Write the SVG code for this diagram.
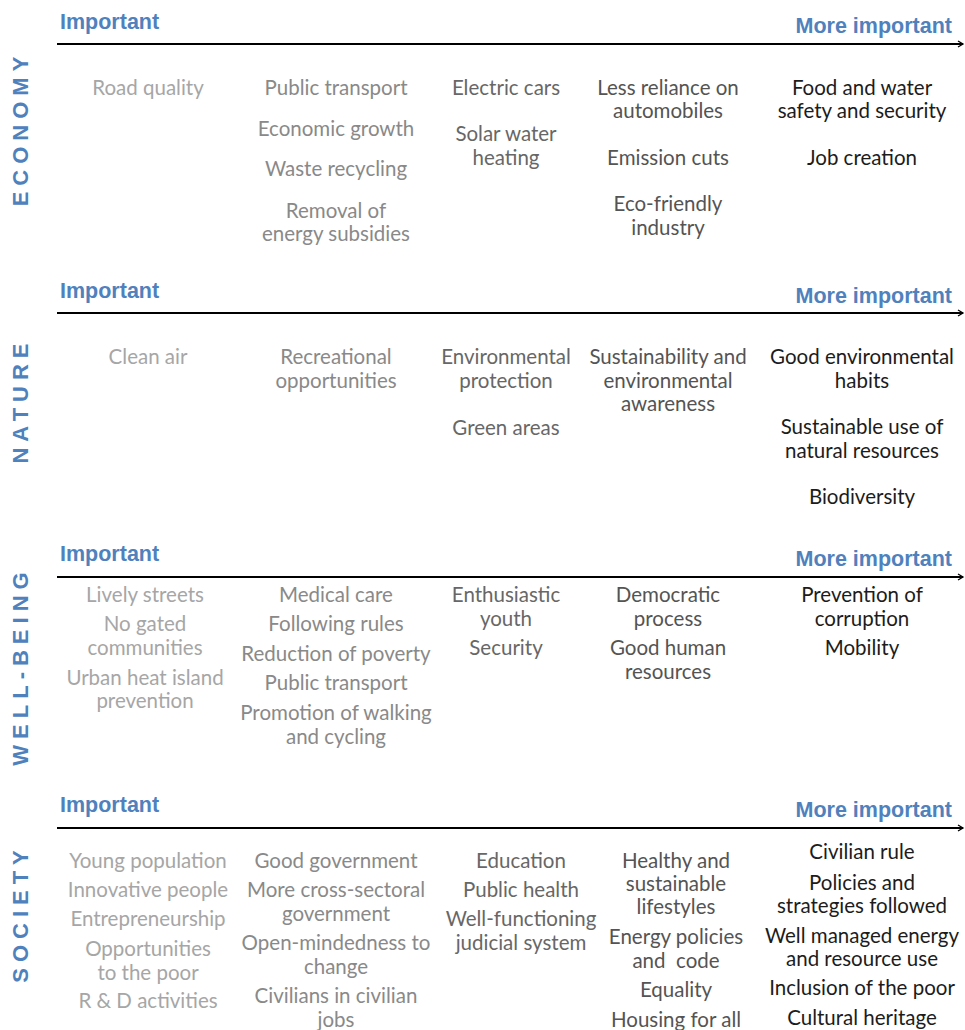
<svg xmlns="http://www.w3.org/2000/svg" width="965" height="1030" viewBox="0 0 965 1030">
  <style>
    text { font-family: Lato, "Liberation Sans", sans-serif; font-size: 20.5px; text-anchor: middle; }
    .hd { font-family: "Liberation Sans", Arial, sans-serif; font-weight: bold; font-size: 21.5px; fill: #4f81bd; }
    .hl { text-anchor: start; }
    .hr { text-anchor: end; }
    .side { font-family: "Liberation Sans", Arial, sans-serif; font-weight: bold; font-size: 22px; fill: #4f81bd; letter-spacing: 6px; }
    .c1 { fill: #a6a6a6; }
    .c2 { fill: #898989; }
    .c3 { fill: #676767; }
    .c4 { fill: #545454; }
    .c5 { fill: #1c1c1c; }
    .axis { stroke: #000; stroke-width: 2; fill: none; }
  </style>
  <defs>
    <marker id="arrow" markerWidth="10" markerHeight="10" refX="7" refY="4" orient="auto" markerUnits="userSpaceOnUse">
      <path d="M2,1 L7,4 L2,7" fill="none" stroke="#000" stroke-width="1.3"/>
    </marker>
  </defs>

  <!-- importance axes -->
  <g id="connectors">
    <line class="axis" x1="57" y1="44" x2="963" y2="44" marker-end="url(#arrow)"/>
    <line class="axis" x1="57" y1="313" x2="963" y2="313" marker-end="url(#arrow)"/>
    <line class="axis" x1="57" y1="577" x2="963" y2="577" marker-end="url(#arrow)"/>
    <line class="axis" x1="57" y1="828" x2="963" y2="828" marker-end="url(#arrow)"/>
  </g>

  <!-- ECONOMY -->
  <g id="economy">
    <text class="side" transform="translate(28,128.5) rotate(-90)">ECONOMY</text>
    <text class="hd hl" x="60" y="29">Important</text>
    <text class="hd hr" x="952" y="33">More important</text>
    <text class="c1" x="148" y="95">Road quality</text>
    <text class="c2" x="336" y="95">Public transport</text>
    <text class="c2" x="336" y="136">Economic growth</text>
    <text class="c2" x="336" y="176">Waste recycling</text>
    <text class="c2" x="336" y="218">Removal of</text>
    <text class="c2" x="336" y="241">energy subsidies</text>
    <text class="c3" x="506" y="95">Electric cars</text>
    <text class="c3" x="506" y="141">Solar water</text>
    <text class="c3" x="506" y="165">heating</text>
    <text class="c4" x="668" y="95">Less reliance on</text>
    <text class="c4" x="668" y="118">automobiles</text>
    <text class="c4" x="668" y="165">Emission cuts</text>
    <text class="c4" x="668" y="211">Eco-friendly</text>
    <text class="c4" x="668" y="235">industry</text>
    <text class="c5" x="862" y="95">Food and water</text>
    <text class="c5" x="862" y="118">safety and security</text>
    <text class="c5" x="862" y="165">Job creation</text>
  </g>

  <!-- NATURE -->
  <g id="nature">
    <text class="side" transform="translate(28,400.5) rotate(-90)">NATURE</text>
    <text class="hd hl" x="60" y="298">Important</text>
    <text class="hd hr" x="952" y="303">More important</text>
    <text class="c1" x="148" y="364">Clean air</text>
    <text class="c2" x="336" y="364">Recreational</text>
    <text class="c2" x="336" y="388">opportunities</text>
    <text class="c3" x="506" y="364">Environmental</text>
    <text class="c3" x="506" y="388">protection</text>
    <text class="c3" x="506" y="435">Green areas</text>
    <text class="c4" x="668" y="364">Sustainability and</text>
    <text class="c4" x="668" y="388">environmental</text>
    <text class="c4" x="668" y="411">awareness</text>
    <text class="c5" x="862" y="364">Good environmental</text>
    <text class="c5" x="862" y="388">habits</text>
    <text class="c5" x="862" y="434">Sustainable use of</text>
    <text class="c5" x="862" y="458">natural resources</text>
    <text class="c5" x="862" y="504">Biodiversity</text>
  </g>

  <!-- WELL-BEING -->
  <g id="well-being">
    <text class="side" transform="translate(28,666) rotate(-90)">WELL-BEING</text>
    <text class="hd hl" x="60" y="561">Important</text>
    <text class="hd hr" x="952" y="566">More important</text>
    <text class="c1" x="145" y="602">Lively streets</text>
    <text class="c1" x="145" y="631">No gated</text>
    <text class="c1" x="145" y="655">communities</text>
    <text class="c1" x="145" y="685">Urban heat island</text>
    <text class="c1" x="145" y="708">prevention</text>
    <text class="c2" x="336" y="602">Medical care</text>
    <text class="c2" x="336" y="631">Following rules</text>
    <text class="c2" x="336" y="661">Reduction of poverty</text>
    <text class="c2" x="336" y="690">Public transport</text>
    <text class="c2" x="336" y="720">Promotion of walking</text>
    <text class="c2" x="336" y="744">and cycling</text>
    <text class="c3" x="506" y="602">Enthusiastic</text>
    <text class="c3" x="506" y="626">youth</text>
    <text class="c3" x="506" y="655">Security</text>
    <text class="c4" x="668" y="602">Democratic</text>
    <text class="c4" x="668" y="626">process</text>
    <text class="c4" x="668" y="655">Good human</text>
    <text class="c4" x="668" y="679">resources</text>
    <text class="c5" x="862" y="602">Prevention of</text>
    <text class="c5" x="862" y="626">corruption</text>
    <text class="c5" x="862" y="655">Mobility</text>
  </g>

  <!-- SOCIETY -->
  <g id="society">
    <text class="side" transform="translate(28,913.5) rotate(-90)">SOCIETY</text>
    <text class="hd hl" x="60" y="812">Important</text>
    <text class="hd hr" x="952" y="817">More important</text>
    <text class="c1" x="148" y="868">Young population</text>
    <text class="c1" x="148" y="897">Innovative people</text>
    <text class="c1" x="148" y="926">Entrepreneurship</text>
    <text class="c1" x="148" y="956">Opportunities</text>
    <text class="c1" x="148" y="980">to the poor</text>
    <text class="c1" x="148" y="1008">R &amp; D activities</text>
    <text class="c2" x="336" y="868">Good government</text>
    <text class="c2" x="336" y="897">More cross-sectoral</text>
    <text class="c2" x="336" y="921">government</text>
    <text class="c2" x="336" y="950">Open-mindedness to</text>
    <text class="c2" x="336" y="974">change</text>
    <text class="c2" x="336" y="1003">Civilians in civilian</text>
    <text class="c2" x="336" y="1027">jobs</text>
    <text class="c3" x="521" y="868">Education</text>
    <text class="c3" x="521" y="897">Public health</text>
    <text class="c3" x="521" y="926">Well-functioning</text>
    <text class="c3" x="521" y="950">judicial system</text>
    <text class="c4" x="676" y="868">Healthy and</text>
    <text class="c4" x="676" y="891">sustainable</text>
    <text class="c4" x="676" y="914">lifestyles</text>
    <text class="c4" x="676" y="944">Energy policies</text>
    <text class="c4" x="676" y="968" xml:space="preserve">and  code</text>
    <text class="c4" x="676" y="997">Equality</text>
    <text class="c4" x="676" y="1027">Housing for all</text>
    <text class="c5" x="862" y="859">Civilian rule</text>
    <text class="c5" x="862" y="890">Policies and</text>
    <text class="c5" x="862" y="913">strategies followed</text>
    <text class="c5" x="862" y="943">Well managed energy</text>
    <text class="c5" x="862" y="966">and resource use</text>
    <text class="c5" x="862" y="995">Inclusion of the poor</text>
    <text class="c5" x="862" y="1025">Cultural heritage</text>
  </g>
</svg>
